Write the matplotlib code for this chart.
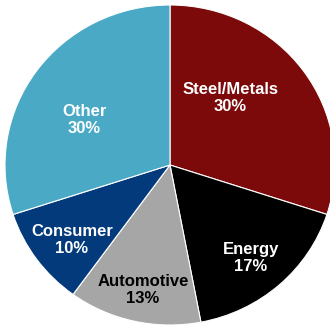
import matplotlib
matplotlib.use("Agg")
import matplotlib.pyplot as plt

# data
sectors = ["Steel/Metals", "Energy", "Automotive", "Consumer", "Other"]
shares = [30, 17, 13, 10, 30]
colors = ["#7c0a0a", "#000000", "#a6a6a6", "#023a7c", "#4aaac6"]
text_colors = ["white", "white", "black", "white", "white"]
# label centres (pie radius units)
label_pos = [(0.364, 0.419), (0.49, -0.581), (-0.164, -0.781),
             (-0.594, -0.47), (-0.52, 0.281)]

plt.rcParams["font.family"] = ["Liberation Sans", "DejaVu Sans"]

fig = plt.figure(figsize=(3.30, 3.28), dpi=100)
ax = fig.add_axes([0, 0, 1, 1])

ax.pie(shares, colors=colors, startangle=90, counterclock=False,
       radius=1.0, wedgeprops=dict(edgecolor="white", linewidth=0.8))

for name, val, (x, y), tc in zip(sectors, shares, label_pos, text_colors):
    ax.text(x, y, f"{name}\n{val}%", ha="center", va="center",
            fontsize=12, fontweight="bold", color=tc, linespacing=1.15)

ax.set_aspect("auto")
ax.set_xlim(-170 / 165, 160 / 165)
ax.set_ylim(-163 / 160, 165 / 160)
ax.axis("off")

fig.savefig("out.png", dpi=100)
